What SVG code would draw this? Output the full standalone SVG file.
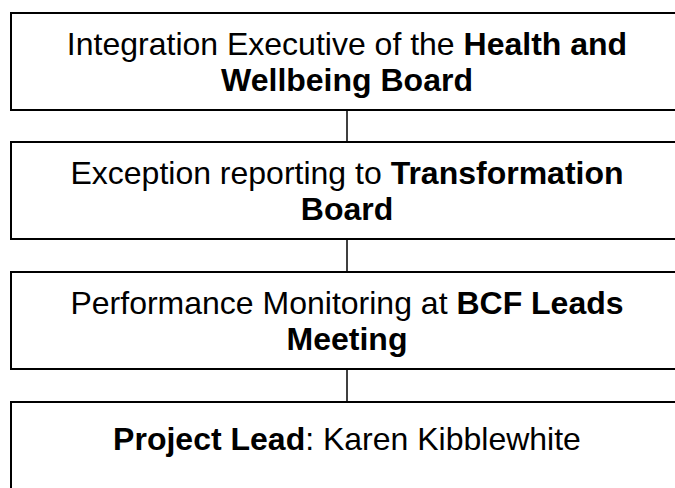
<svg xmlns="http://www.w3.org/2000/svg" width="675" height="488" viewBox="0 0 675 488">
  <style>
    .box { fill: #ffffff; stroke: #000000; stroke-width: 2; }
    .link { stroke: #000000; stroke-width: 1.5; fill: none; }
    text { font-family: "Liberation Sans", Arial, sans-serif; font-size: 32px; fill: #000000; text-anchor: middle; }
    .b { font-weight: bold; }
  </style>
  <rect width="675" height="488" fill="#ffffff"/>
  <g id="connectors">
    <line class="link" x1="347" y1="110" x2="347" y2="142"/>
    <line class="link" x1="347" y1="239" x2="347" y2="272"/>
    <line class="link" x1="347" y1="369" x2="347" y2="402"/>
  </g>
  <g id="integration-executive">
    <rect class="box" x="11" y="13" width="680" height="97"/>
    <text x="347" y="55">Integration Executive of the <tspan class="b">Health and</tspan></text>
    <text x="347" y="91" class="b">Wellbeing Board</text>
  </g>
  <g id="transformation-board">
    <rect class="box" x="11" y="142" width="680" height="97"/>
    <text x="347" y="184">Exception reporting to <tspan class="b">Transformation</tspan></text>
    <text x="347" y="220" class="b">Board</text>
  </g>
  <g id="bcf-leads">
    <rect class="box" x="11" y="272" width="680" height="97"/>
    <text x="347" y="314">Performance Monitoring at <tspan class="b">BCF Leads</tspan></text>
    <text x="347" y="350" class="b">Meeting</text>
  </g>
  <g id="project-lead">
    <rect class="box" x="11" y="402" width="680" height="120"/>
    <text x="347" y="450"><tspan class="b">Project Lead</tspan>: Karen Kibblewhite</text>
  </g>
</svg>
